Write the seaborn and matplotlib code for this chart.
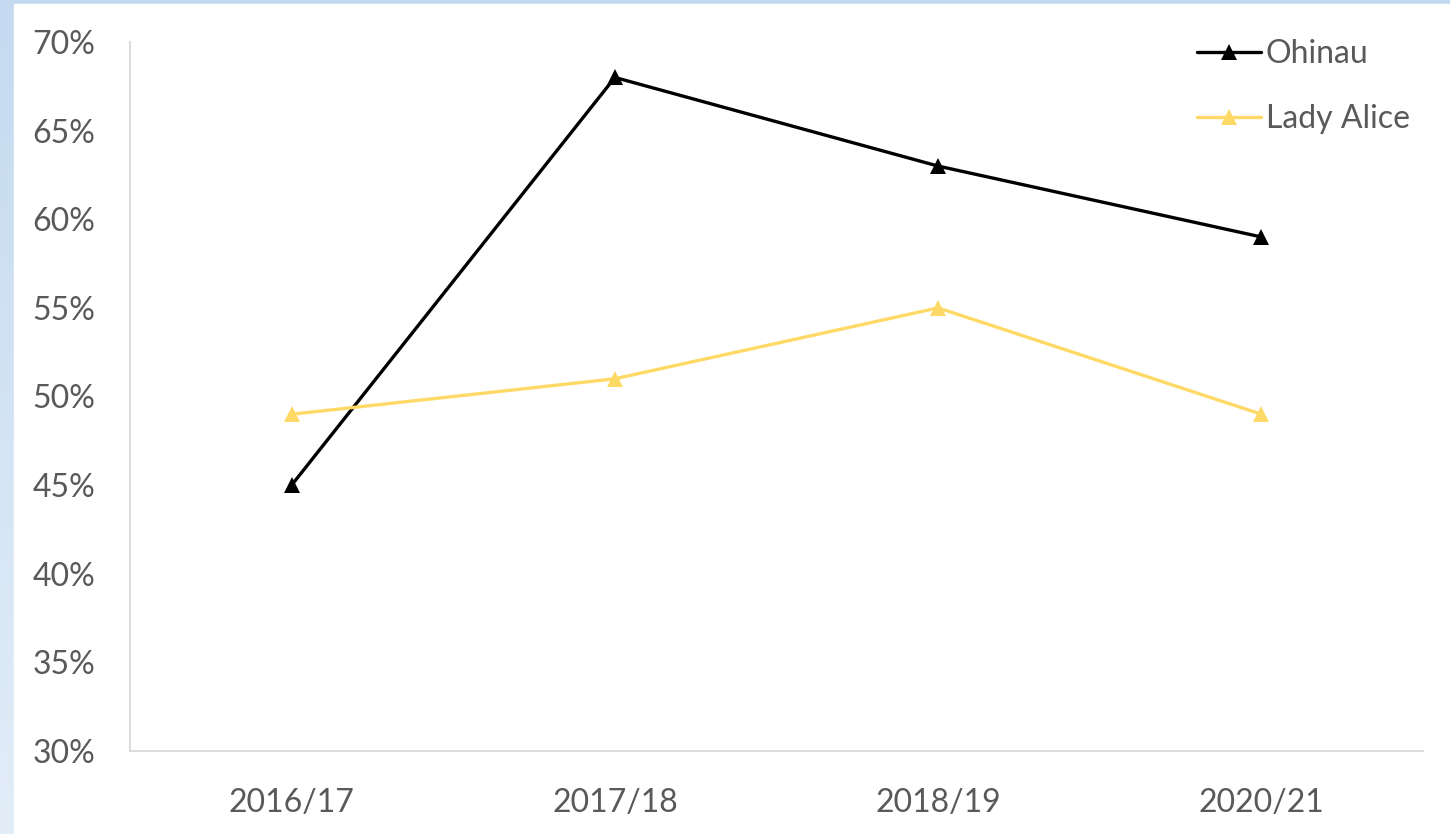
import numpy as np
import pandas as pd
import matplotlib
matplotlib.use("Agg")
import matplotlib.pyplot as plt
from matplotlib.patches import Rectangle
from matplotlib.colors import LinearSegmentedColormap
from matplotlib.ticker import PercentFormatter
import seaborn as sns

# ── data ─────────────────────────────────────────────────────────────────────
SEASONS    = ["2016/17", "2017/18", "2018/19", "2020/21"]
OHINAU     = [45, 68, 63, 59]
LADY_ALICE = [49, 51, 55, 49]

SERIES_NAMES  = ["Ohinau", "Lady Alice"]
SERIES_COLORS = {"Ohinau": "#000000", "Lady Alice": "#FFD966"}
TEXT_COLOR    = "#595959"
SPINE_COLOR   = "#D9D9D9"

df = pd.DataFrame({
    "season": SEASONS * 2,
    "value":  OHINAU + LADY_ALICE,
    "series": ["Ohinau"] * len(SEASONS) + ["Lady Alice"] * len(SEASONS),
})
df["x"] = df["season"].map({s: i for i, s in enumerate(SEASONS)})

sns.set_style("white")
plt.rcParams["font.family"] = ["Lato", "DejaVu Sans"]

fig = plt.figure(figsize=(14.5, 8.34), dpi=100)

# ── slide background: blue gradient strip left/top, white body ──────────────
bg = fig.add_axes([0, 0, 1, 1], zorder=-10)
grad = LinearSegmentedColormap.from_list("bg", ["#C4DAF0", "#E2EDF8"])
bg.imshow(np.linspace(0, 1, 256).reshape(-1, 1), aspect="auto", cmap=grad,
          extent=(0, 1, 1, 0))
bg.add_patch(Rectangle((14 / 1450, 4 / 834), 1, 1, color="white"))
bg.set_xlim(0, 1)
bg.set_ylim(1, 0)
bg.axis("off")

ax = fig.add_axes([130 / 1450, 83 / 834, 1293 / 1450, 709 / 834])
ax.set_facecolor("none")

sns.lineplot(
    data=df, x="x", y="value", hue="series", hue_order=SERIES_NAMES,
    palette=SERIES_COLORS, marker="^", markersize=12, markeredgewidth=0,
    linewidth=2.4, ax=ax, sort=False,
)

ax.set_xlim(-0.5, len(SEASONS) - 0.5)
ax.set_ylim(30, 70)
ax.set_xticks(range(len(SEASONS)))
ax.set_xticklabels(SEASONS)
ax.set_yticks(np.arange(30, 71, 5))
ax.yaxis.set_major_formatter(PercentFormatter(decimals=0))
ax.tick_params(axis="both", length=0, labelsize=23, colors=TEXT_COLOR)
ax.tick_params(axis="y", pad=25)
ax.tick_params(axis="x", pad=27)
ax.set_xlabel("")
ax.set_ylabel("")

sns.despine(ax=ax, top=True, right=True)
for side in ["left", "bottom"]:
    ax.spines[side].set_color(SPINE_COLOR)
    ax.spines[side].set_linewidth(1.3)

leg = ax.legend(
    loc="upper right", bbox_to_anchor=(1.012, 1.045), frameon=False,
    fontsize=23, handlelength=2.0, handletextpad=0.15, labelspacing=1.1,
)
for t in leg.get_texts():
    t.set_color(TEXT_COLOR)

fig.savefig("out.png", dpi=100)
